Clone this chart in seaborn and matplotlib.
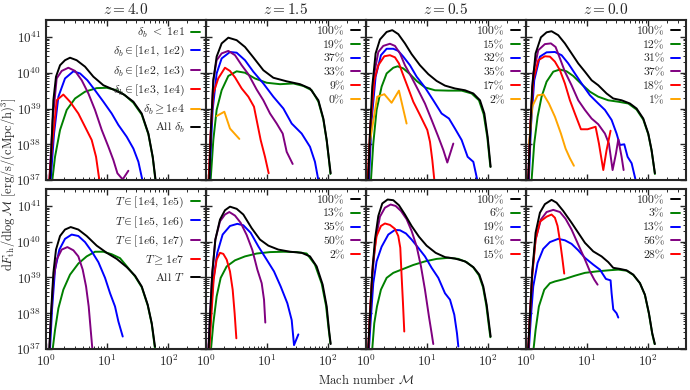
"""Thermal energy flux vs Mach number, split by overdensity and temperature."""

import numpy as np
import pandas as pd
import matplotlib
matplotlib.use('Agg')
import matplotlib.pyplot as plt
import seaborn as sns
from matplotlib.lines import Line2D
from matplotlib.ticker import LogLocator, NullFormatter

###################################################################################################
# Data (log10 Mach number, log10 dF/dlogM)
###################################################################################################

redshifts = ['4.0', '1.5', '0.5', '0.0']
bins = ['lo', 'b1', 'b2', 'b3', 'hi', 'all']
colors = {'lo': 'green', 'b1': 'blue', 'b2': 'purple', 'b3': 'red', 'hi': 'orange', 'all': 'black'}

dens_labels = [r'$\delta_b\ <\ 1e1$', r'$\delta_b \in [1e1,\,1e2)$', r'$\delta_b \in [1e2,\,1e3)$',
               r'$\delta_b \in [1e3,\,1e4)$', r'$\delta_b \geq 1e4$', r'All $\delta_b$']
temp_labels = [r'$T \in [1e4,\,1e5)$', r'$T \in [1e5,\,1e6)$', r'$T \in [1e6,\,1e7)$',
               r'$T \geq 1e7$', r'All $T$']

# percentages (all, lo, b1, b2, b3, hi)
dens_pct = {'1.5': [100, 19, 37, 33, 9, 0], '0.5': [100, 15, 32, 35, 17, 2],
            '0.0': [100, 12, 31, 37, 18, 1]}
temp_pct = {'1.5': [100, 13, 35, 50, 2], '0.5': [100, 6, 19, 61, 15],
            '0.0': [100, 3, 13, 56, 28]}

dens_z40 = {
    'all': ([0.065, 0.093, 0.12, 0.163, 0.229, 0.31, 0.392, 0.50, 0.637, 0.773, 0.937, 1.10, 1.264,
             1.427, 1.563, 1.672, 1.743, 1.79],
            [37.0, 38.12, 39.23, 39.89, 40.21, 40.35, 40.42, 40.35, 40.17, 39.89, 39.65, 39.53, 39.40,
             39.19, 38.86, 38.30, 37.65, 37.0]),
    'b2': ([0.054, 0.109, 0.174, 0.256, 0.365, 0.474, 0.583, 0.692, 0.80, 0.91, 1.019, 1.10, 1.166,
            1.236, 1.253, 1.345],
           [37.0, 38.68, 39.84, 40.05, 40.14, 40.05, 39.79, 39.42, 38.96, 38.40, 37.93, 37.56, 37.19,
            37.05, 37.02, 37.26]),
    'b1': ([0.076, 0.131, 0.202, 0.31, 0.447, 0.556, 0.675, 0.80, 0.937, 1.073, 1.182, 1.318, 1.427,
            1.509, 1.574],
           [37.0, 38.30, 39.33, 39.84, 40.04, 39.98, 39.79, 39.51, 39.19, 38.86, 38.54, 38.21, 37.88,
            37.51, 37.0]),
    'b3': ([0.054, 0.109, 0.174, 0.283, 0.392, 0.528, 0.637, 0.746, 0.817, 0.871],
           [37.0, 38.12, 39.23, 39.39, 39.19, 38.86, 38.49, 38.12, 37.65, 37.0]),
    'lo': ([0.103, 0.147, 0.229, 0.338, 0.474, 0.637, 0.828, 0.991, 1.155, 1.29, 1.427, 1.563, 1.672,
            1.743, 1.786],
           [37.0, 37.65, 38.40, 38.96, 39.28, 39.47, 39.57, 39.58, 39.51, 39.37, 39.16, 38.83, 38.28,
            37.63, 37.0]),
}

dens_z15 = {
    'all': ([0.054, 0.082, 0.12, 0.174, 0.256, 0.365, 0.501, 0.637, 0.773, 0.937, 1.10, 1.318, 1.536,
             1.699, 1.836, 1.917, 1.972, 2.01, 2.037],
            [37.0, 38.49, 39.79, 40.45, 40.82, 40.98, 40.91, 40.72, 40.43, 40.07, 39.86, 39.76, 39.68,
             39.56, 39.23, 38.72, 38.12, 37.56, 37.19]),
    'b2': ([0.049, 0.082, 0.12, 0.174, 0.256, 0.365, 0.474, 0.583, 0.692, 0.828, 0.937, 1.046, 1.155,
            1.253, 1.318, 1.416],
           [37.0, 38.49, 39.79, 40.35, 40.54, 40.61, 40.49, 40.21, 39.96, 39.53, 39.23, 38.86, 38.58,
            38.30, 37.79, 37.45]),
    'b1': ([0.054, 0.109, 0.174, 0.256, 0.392, 0.501, 0.637, 0.773, 0.937, 1.10, 1.264, 1.40, 1.563,
            1.699, 1.78, 1.835],
           [37.0, 38.96, 39.98, 40.40, 40.58, 40.56, 40.35, 40.03, 39.70, 39.33, 39.0, 38.58, 38.30,
            37.93, 37.51, 37.0]),
    'b3': ([0.044, 0.076, 0.12, 0.20, 0.31, 0.392, 0.474, 0.583, 0.692, 0.784, 0.839, 0.893, 0.964,
            1.024],
           [37.0, 38.30, 39.42, 39.84, 40.14, 40.05, 39.87, 39.56, 39.33, 39.05, 38.58, 38.12, 37.65,
            37.19]),
    'lo': ([0.076, 0.12, 0.174, 0.256, 0.365, 0.501, 0.637, 0.80, 0.991, 1.209, 1.427, 1.59, 1.727,
            1.836, 1.917, 1.972, 2.01, 2.032],
           [37.0, 38.12, 38.96, 39.51, 39.91, 40.04, 40.0, 39.84, 39.72, 39.68, 39.70, 39.63, 39.51,
            39.19, 38.69, 38.09, 37.54, 37.17]),
    'hi': ([0.174, 0.30, 0.392, 0.545],
           [38.79, 38.91, 38.44, 38.15]),
}

dens_z05 = {
    'all': ([0.038, 0.065, 0.103, 0.158, 0.229, 0.338, 0.43, 0.528, 0.637, 0.746, 0.882, 1.019, 1.155,
             1.291, 1.454, 1.618, 1.754, 1.863, 1.934, 1.988, 2.037],
            [37.0, 38.30, 39.61, 40.54, 40.93, 41.14, 41.19, 41.08, 40.82, 40.52, 40.21, 39.96, 39.77,
             39.64, 39.56, 39.51, 39.42, 39.23, 38.86, 38.21, 37.37]),
    'b2': ([0.038, 0.082, 0.136, 0.202, 0.283, 0.392, 0.474, 0.556, 0.637, 0.746, 0.855, 0.964, 1.073,
            1.182, 1.264, 1.329, 1.427],
           [37.0, 38.68, 39.98, 40.58, 40.75, 40.81, 40.75, 40.54, 40.21, 39.87, 39.51, 39.14, 38.68,
            38.21, 37.84, 37.49, 38.02]),
    'b1': ([0.049, 0.093, 0.158, 0.245, 0.338, 0.447, 0.528, 0.61, 0.719, 0.828, 0.964, 1.10, 1.236,
            1.356, 1.454, 1.563, 1.661, 1.754, 1.819],
           [37.0, 38.68, 39.89, 40.49, 40.67, 40.67, 40.61, 40.45, 40.21, 39.89, 39.59, 39.23, 38.86,
            38.72, 38.44, 38.12, 37.65, 37.51, 37.0]),
    'b3': ([0.027, 0.071, 0.136, 0.202, 0.30, 0.392, 0.474, 0.539, 0.594, 0.681, 0.773, 0.882, 1.002,
            1.046, 1.084, 1.117],
           [37.0, 38.49, 39.79, 40.21, 40.46, 40.49, 40.43, 40.26, 40.0, 39.61, 39.19, 38.82, 38.40,
            38.07, 37.56, 37.0]),
    'lo': ([0.082, 0.12, 0.174, 0.256, 0.338, 0.447, 0.517, 0.61, 0.719, 0.828, 0.964, 1.127, 1.345,
            1.563, 1.727, 1.846, 1.923, 1.983, 2.032],
           [37.0, 38.02, 38.96, 39.61, 39.98, 40.14, 40.18, 40.12, 39.96, 39.77, 39.59, 39.51, 39.50,
            39.50, 39.42, 39.23, 38.84, 38.19, 37.37]),
    'hi': ([0.065, 0.185, 0.30, 0.419, 0.539, 0.664],
           [38.07, 39.33, 39.40, 39.16, 39.50, 38.58]),
}

dens_z00 = {
    'all': ([0.038, 0.065, 0.103, 0.158, 0.245, 0.338, 0.419, 0.528, 0.637, 0.746, 0.855, 0.964, 1.073,
             1.182, 1.318, 1.427, 1.563, 1.699, 1.808, 1.917, 1.999, 2.053, 2.107],
            [37.0, 38.12, 39.61, 40.54, 40.99, 41.13, 41.16, 41.05, 40.82, 40.54, 40.26, 40.03, 39.79,
             39.65, 39.42, 39.28, 39.23, 39.14, 39.0, 38.72, 38.30, 37.84, 37.19]),
    'b2': ([0.038, 0.071, 0.12, 0.202, 0.31, 0.408, 0.485, 0.556, 0.637, 0.746, 0.855, 0.964, 1.073,
            1.182, 1.291, 1.356, 1.416, 1.471, 1.509, 1.563, 1.596],
           [37.0, 38.49, 39.98, 40.63, 40.80, 40.82, 40.72, 40.40, 40.03, 39.65, 39.23, 38.96, 38.72,
            38.56, 38.30, 38.02, 37.28, 37.74, 38.14, 37.65, 37.28]),
    'b1': ([0.049, 0.082, 0.136, 0.229, 0.338, 0.474, 0.583, 0.692, 0.80, 0.91, 1.046, 1.182, 1.291,
            1.40, 1.481, 1.536, 1.607, 1.661, 1.727, 1.792],
           [37.0, 38.49, 39.79, 40.45, 40.57, 40.58, 40.49, 40.26, 39.98, 39.70, 39.37, 39.14, 38.96,
            38.68, 38.30, 37.98, 38.0, 37.65, 37.47, 37.0]),
    'b3': ([0.038, 0.071, 0.12, 0.202, 0.31, 0.392, 0.474, 0.556, 0.637, 0.719, 0.80, 0.899, 1.008,
            1.138, 1.193, 1.264, 1.318, 1.383],
           [37.0, 38.49, 39.79, 40.35, 40.46, 40.45, 40.31, 40.07, 39.70, 39.23, 38.86, 38.42, 38.42,
            38.49, 38.02, 37.28, 37.84, 38.38]),
    'lo': ([0.093, 0.136, 0.191, 0.256, 0.338, 0.447, 0.556, 0.664, 0.773, 0.91, 1.046, 1.182, 1.345,
            1.509, 1.672, 1.808, 1.917, 1.999, 2.053, 2.107],
           [37.0, 38.02, 38.77, 39.33, 39.75, 40.03, 40.09, 40.04, 39.91, 39.68, 39.47, 39.33, 39.23,
            39.19, 39.14, 38.97, 38.69, 38.28, 37.82, 37.17]),
    'hi': ([0.054, 0.103, 0.191, 0.289, 0.376, 0.474, 0.572, 0.648, 0.719, 0.784],
           [38.02, 39.05, 39.37, 39.39, 39.14, 38.77, 38.30, 37.88, 37.61, 37.40]),
}

temp_z40 = {
    'all': ([0.054, 0.082, 0.12, 0.163, 0.229, 0.31, 0.403, 0.528, 0.664, 0.828, 0.991, 1.155, 1.318,
             1.454, 1.563, 1.661, 1.727, 1.78],
            [37.0, 38.0, 39.13, 39.78, 40.16, 40.34, 40.41, 40.34, 40.16, 39.89, 39.69, 39.52, 39.29,
             39.05, 38.75, 38.24, 37.72, 37.07]),
    'b1': ([0.065, 0.098, 0.147, 0.218, 0.31, 0.419, 0.528, 0.637, 0.746, 0.855, 0.964, 1.046, 1.127,
            1.182, 1.253],
           [37.0, 38.10, 39.22, 39.78, 40.08, 40.20, 40.16, 39.99, 39.73, 39.43, 38.99, 38.56, 38.19,
            37.77, 37.35]),
    'b2': ([0.054, 0.082, 0.12, 0.174, 0.256, 0.349, 0.447, 0.528, 0.599, 0.654, 0.697, 0.73, 0.757],
           [37.0, 37.91, 38.94, 39.50, 39.78, 39.85, 39.76, 39.59, 39.22, 38.75, 38.19, 37.53, 37.0]),
    'lo': ([0.109, 0.147, 0.202, 0.283, 0.392, 0.528, 0.664, 0.80, 0.937, 1.073, 1.209, 1.345, 1.454,
            1.563, 1.661, 1.727, 1.776],
           [37.0, 37.53, 38.14, 38.66, 39.08, 39.39, 39.59, 39.72, 39.72, 39.65, 39.54, 39.26, 39.03,
            38.73, 38.22, 37.70, 37.05]),
}

temp_z15 = {
    'all': ([0.044, 0.065, 0.103, 0.153, 0.229, 0.31, 0.392, 0.501, 0.61, 0.746, 0.882, 1.019, 1.182,
             1.373, 1.563, 1.699, 1.808, 1.906, 1.972, 2.01, 2.037],
            [37.0, 37.91, 39.13, 40.06, 40.62, 40.88, 40.98, 40.92, 40.76, 40.38, 40.06, 39.89, 39.78,
             39.72, 39.69, 39.59, 39.31, 38.80, 38.19, 37.53, 37.14]),
    'b2': ([0.038, 0.065, 0.103, 0.153, 0.229, 0.31, 0.381, 0.474, 0.566, 0.664, 0.757, 0.839, 0.91,
            0.948, 0.969],
           [37.0, 37.91, 39.13, 40.06, 40.57, 40.76, 40.83, 40.73, 40.53, 40.19, 39.77, 39.22, 38.84,
            38.38, 37.74]),
    'b1': ([0.049, 0.076, 0.12, 0.185, 0.272, 0.392, 0.512, 0.61, 0.73, 0.855, 0.991, 1.111, 1.22,
            1.329, 1.40, 1.438, 1.509],
           [37.0, 37.91, 38.94, 39.69, 40.20, 40.44, 40.50, 40.46, 40.25, 39.87, 39.50, 39.17, 38.75,
            38.28, 37.81, 37.11, 37.41]),
    'b3': ([0.054, 0.087, 0.125, 0.174, 0.229, 0.283, 0.338, 0.392, 0.436, 0.468, 0.496],
           [37.0, 37.91, 38.94, 39.50, 39.69, 39.66, 39.50, 39.17, 38.66, 38.0, 37.30]),
    'lo': ([0.082, 0.12, 0.174, 0.24, 0.338, 0.474, 0.637, 0.828, 1.046, 1.264, 1.481, 1.645, 1.78,
            1.89, 1.961, 2.004, 2.032],
           [37.0, 37.72, 38.47, 38.99, 39.31, 39.48, 39.59, 39.67, 39.71, 39.72, 39.71, 39.67, 39.36,
            38.83, 38.21, 37.55, 37.16]),
}

temp_z05 = {
    'all': ([0.038, 0.065, 0.103, 0.147, 0.202, 0.267, 0.354, 0.447, 0.539, 0.637, 0.746, 0.866, 0.991,
             1.138, 1.291, 1.454, 1.618, 1.754, 1.852, 1.917, 1.972, 2.01, 2.037],
            [37.0, 37.91, 39.13, 40.06, 40.72, 41.07, 41.18, 41.16, 41.02, 40.76, 40.44, 40.14, 39.89,
             39.69, 39.57, 39.53, 39.45, 39.29, 39.08, 38.75, 38.24, 37.72, 37.35]),
    'b2': ([0.038, 0.065, 0.103, 0.158, 0.229, 0.31, 0.403, 0.485, 0.572, 0.664, 0.746, 0.828, 0.899,
            0.964, 1.029, 1.073, 1.10],
           [37.0, 37.91, 39.03, 40.06, 40.70, 40.95, 41.04, 41.0, 40.86, 40.63, 40.30, 39.87, 39.31,
            38.66, 37.91, 37.44, 37.14]),
    'b1': ([0.049, 0.082, 0.12, 0.174, 0.256, 0.365, 0.474, 0.556, 0.654, 0.746, 0.855, 0.964, 1.073,
            1.182, 1.291, 1.373, 1.443, 1.487, 1.509],
           [37.0, 37.91, 38.84, 39.45, 39.86, 40.20, 40.33, 40.32, 40.23, 40.06, 39.83, 39.59, 39.27,
            38.99, 38.56, 38.38, 37.96, 37.44, 37.07]),
    'b3': ([0.038, 0.071, 0.114, 0.174, 0.245, 0.31, 0.392, 0.474, 0.528, 0.561, 0.583, 0.605, 0.626],
           [37.0, 38.19, 39.41, 40.16, 40.44, 40.51, 40.47, 40.36, 40.16, 39.83, 39.03, 38.28, 37.49]),
    'lo': ([0.103, 0.136, 0.18, 0.245, 0.338, 0.447, 0.61, 0.773, 0.964, 1.155, 1.345, 1.509, 1.645,
            1.754, 1.846, 1.912, 1.966, 2.004, 2.032],
           [37.0, 37.72, 38.19, 38.66, 38.99, 39.13, 39.24, 39.35, 39.45, 39.52, 39.55, 39.52, 39.43,
            39.28, 39.06, 38.73, 38.22, 37.70, 37.33]),
}

temp_z00 = {
    'all': ([0.038, 0.065, 0.103, 0.158, 0.229, 0.31, 0.419, 0.501, 0.61, 0.746, 0.855, 0.964, 1.10,
             1.236, 1.345, 1.427, 1.536, 1.645, 1.754, 1.863, 1.944, 2.01, 2.064, 2.107],
            [37.0, 37.91, 39.13, 40.25, 40.81, 41.05, 41.17, 41.09, 40.86, 40.53, 40.25, 39.97, 39.73,
             39.59, 39.43, 39.27, 39.24, 39.20, 39.08, 38.84, 38.52, 38.0, 37.44, 37.14]),
    'b2': ([0.038, 0.065, 0.103, 0.158, 0.245, 0.338, 0.447, 0.556, 0.648, 0.746, 0.855, 0.953, 1.046,
            1.117, 1.171],
           [37.0, 37.91, 39.13, 40.06, 40.62, 40.83, 40.89, 40.83, 40.64, 40.34, 39.92, 39.55, 39.17,
            38.94, 38.80]),
    'b3': ([0.038, 0.065, 0.103, 0.158, 0.229, 0.338, 0.419, 0.474, 0.517, 0.561, 0.594, 0.626],
           [37.0, 37.91, 39.03, 40.06, 40.56, 40.70, 40.76, 40.67, 40.44, 39.97, 39.55, 39.11]),
    'b1': ([0.049, 0.082, 0.12, 0.191, 0.283, 0.392, 0.528, 0.637, 0.746, 0.855, 0.964, 1.10, 1.209,
            1.307, 1.383, 1.40, 1.427, 1.481, 1.509],
           [37.0, 37.91, 38.75, 39.41, 39.80, 39.99, 40.08, 40.04, 39.94, 39.76, 39.55, 39.36, 39.22,
            38.96, 38.92, 38.56, 38.11, 38.0, 37.88]),
    'lo': ([0.125, 0.158, 0.212, 0.30, 0.392, 0.474, 0.637, 0.80, 0.964, 1.155, 1.345, 1.509, 1.645,
            1.754, 1.863, 1.944, 2.01, 2.064, 2.102],
           [37.0, 37.53, 38.19, 38.66, 38.84, 38.89, 38.96, 39.05, 39.13, 39.17, 39.20, 39.22, 39.19,
            39.07, 38.84, 38.51, 37.98, 37.42, 37.14]),
}

dens_panels = [dens_z40, dens_z15, dens_z05, dens_z00]
temp_panels = [temp_z40, temp_z15, temp_z05, temp_z00]

###################################################################################################
###################################################################################################

sns.set_style('ticks')
plt.rcParams['font.family'] = ['cmr10', 'DejaVu Serif']
plt.rcParams['mathtext.fontset'] = 'cm'
plt.rcParams['axes.unicode_minus'] = False
plt.rcParams['axes.formatter.use_mathtext'] = True


def to_frame(panel):
    """Turn one panel's curves into a long dataframe in linear units."""
    rows = []
    for key, (lm, lf) in panel.items():
        rows.append(pd.DataFrame({'bin': key, 'M': np.power(10., lm), 'F': np.power(10., lf)}))
    return pd.concat(rows, ignore_index=True)


def style_ax(ax, row, col):
    """Log axes, inward ticks on all sides, labels only on outer panels."""
    ax.set_xscale('log')
    ax.set_yscale('log')
    ax.set_xlim(1, 410)
    ax.set_ylim(1e37, 3e41)
    ax.xaxis.set_major_locator(LogLocator(base=10, numticks=10))
    ax.xaxis.set_minor_locator(LogLocator(base=10, subs=np.arange(2, 10), numticks=20))
    ax.yaxis.set_major_locator(LogLocator(base=10, numticks=10))
    ax.yaxis.set_minor_locator(LogLocator(base=10, subs=np.arange(2, 10), numticks=20))
    ax.tick_params(which='both', direction='in', top=True, right=True, labelsize=9.5)
    ax.tick_params(which='major', length=4, width=1)
    ax.tick_params(which='minor', length=2, width=0.7)
    for sp in ax.spines.values():
        sp.set_linewidth(1.5)
    if row == 0:
        ax.xaxis.set_major_formatter(NullFormatter())
    ax.xaxis.set_minor_formatter(NullFormatter())
    if col > 0:
        ax.yaxis.set_major_formatter(NullFormatter())
    ax.yaxis.set_minor_formatter(NullFormatter())
    ax.set_xlabel('')
    ax.set_ylabel('')


def add_legend(ax, keys, labels, spacing=0.3):
    handles = [Line2D([], [], color=colors[k], lw=1.4) for k in keys]
    ax.legend(handles, labels, loc='upper right', frameon=False, markerfirst=False,
              fontsize=8.5, handlelength=0.8, handletextpad=0.5, labelspacing=spacing,
              borderaxespad=0.3, borderpad=0.2)


fig, axes = plt.subplots(2, 4, figsize=(6.9, 3.9), dpi=100)
fig.subplots_adjust(left=0.0667, right=0.994, top=0.949, bottom=0.105, wspace=0, hspace=0.055)

for row, panels in enumerate([dens_panels, temp_panels]):
    for col, panel in enumerate(panels):
        ax = axes[row, col]
        df = to_frame(panel)
        order = [b for b in bins if b in panel]
        sns.lineplot(data=df, x='M', y='F', hue='bin', hue_order=order, palette=colors,
                     sort=False, estimator=None, lw=1.4, legend=False, ax=ax)
        style_ax(ax, row, col)

        z = redshifts[col]
        if row == 0:
            ax.set_title(r'$z = %s$' % z, fontsize=11, pad=4)
            if col == 0:
                add_legend(ax, ['lo', 'b1', 'b2', 'b3', 'hi', 'all'], dens_labels, 0.36)
            else:
                add_legend(ax, ['all', 'lo', 'b1', 'b2', 'b3', 'hi'],
                           [r'%d%%' % p for p in dens_pct[z]])
        else:
            if col == 0:
                add_legend(ax, ['lo', 'b1', 'b2', 'b3', 'all'], temp_labels, 0.36)
            else:
                add_legend(ax, ['all', 'lo', 'b1', 'b2', 'b3'],
                           [r'%d%%' % p for p in temp_pct[z]])

fig.text(0.012, 0.527, r'$\mathrm{d}F_{\mathrm{th}}/\mathrm{d}\log\mathcal{M}$ [erg/s/(cMpc/h)$^3$]',
         rotation=90, ha='center', va='center', fontsize=9)
fig.text(0.53, 0.025, r'Mach number $\mathcal{M}$', ha='center', va='center', fontsize=9)

plt.savefig('out.png', dpi=100)
